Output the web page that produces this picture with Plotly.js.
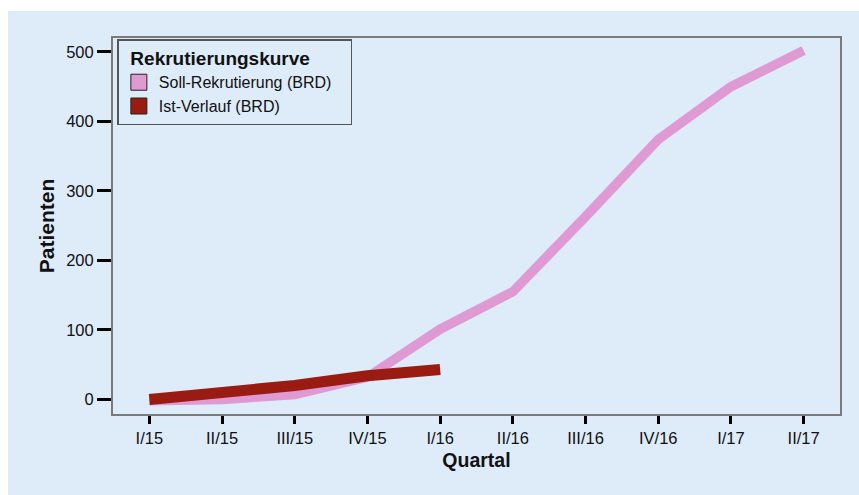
<!DOCTYPE html>
<html>
<head>
<meta charset="utf-8">
<script src="https://cdn.plot.ly/plotly-3.0.1.min.js"></script>
<style>
html,body{margin:0;padding:0;background:#fff;}
#chart{width:859px;height:495px;}
</style>
</head>
<body>
<div id="chart"></div>
<script>
var quarters = ['I/15','II/15','III/15','IV/15','I/16','II/16','III/16','IV/16','I/17','II/17'];
var sollValues = [-2, 0, 7, 32, 101, 155, 263, 374, 450, 502];
var istQuarters = ['I/15','II/15','III/15','IV/15','I/16'];
var istValues = [0, 9, 20, 34, 43];
var yTicks = [0, 100, 200, 300, 400, 500];
var seriesNames = ['Soll-Rekrutierung (BRD)', 'Ist-Verlauf (BRD)'];
var legendTitle = 'Rekrutierungskurve';

var pink = '#df9ad4';
var red = '#991b12';
var bg = '#deebf8';
var font = 'Liberation Sans, Arial, sans-serif';

var traces = [
  {x: quarters, y: sollValues, type: 'scatter', mode: 'lines',
   line: {color: pink, width: 9.5}, showlegend: false, hoverinfo: 'skip'},
  {x: istQuarters, y: istValues, type: 'scatter', mode: 'lines',
   line: {color: red, width: 11}, showlegend: false, hoverinfo: 'skip'},
  {x: [null], y: [null], type: 'scatter', mode: 'markers', name: seriesNames[0],
   marker: {symbol: 'square', size: 16, color: pink, line: {color: '#222', width: 1}}},
  {x: [null], y: [null], type: 'scatter', mode: 'markers', name: seriesNames[1],
   marker: {symbol: 'square', size: 16, color: red, line: {color: '#222', width: 1}}}
];

var layout = {
  width: 859, height: 495,
  margin: {l: 113, r: 19, t: 38, b: 81},
  paper_bgcolor: '#ffffff',
  plot_bgcolor: bg,
  font: {family: font, color: '#111', size: 16},
  shapes: [{type: 'rect', xref: 'paper', yref: 'paper', layer: 'below',
    x0: -0.1444, x1: 1.03, y0: -0.22, y1: 1.0718,
    fillcolor: bg, line: {width: 0}}],
  xaxis: {
    type: 'category', range: [-0.5, 9.5], fixedrange: true,
    showline: true, linecolor: '#7a7a7a', linewidth: 2, mirror: true,
    ticks: 'outside', ticklen: 8, tickwidth: 3, tickcolor: '#000',
    showgrid: false, zeroline: false,
    tickfont: {size: 16.5, family: font, color: '#111'},
    title: {text: '<b>Quartal</b>', font: {size: 19.5, family: font, color: '#111'}, standoff: 8}
  },
  yaxis: {
    range: [-21, 520], fixedrange: true,
    tickvals: yTicks, ticktext: yTicks.map(String),
    showline: true, linecolor: '#7a7a7a', linewidth: 2, mirror: true,
    ticks: 'outside', ticklen: 14, tickwidth: 3, tickcolor: '#000',
    showgrid: false, zeroline: false,
    tickfont: {size: 16.5, family: font, color: '#111'},
    title: {text: '<b>Patienten</b>', font: {size: 21, family: font, color: '#111'}, standoff: 6}
  },
  legend: {
    x: 0.006, y: 0.997, xanchor: 'left', yanchor: 'top',
    bgcolor: bg, bordercolor: '#555', borderwidth: 1.5,
    font: {size: 16, family: font, color: '#111'},
    title: {text: '\u2002<b>' + legendTitle + '</b>\u2003\u2003', font: {size: 19, family: font, color: '#111'}},
    tracegroupgap: 0
  }
};

Plotly.newPlot('chart', traces, layout, {displayModeBar: false, staticPlot: true});
</script>
</body>
</html>
